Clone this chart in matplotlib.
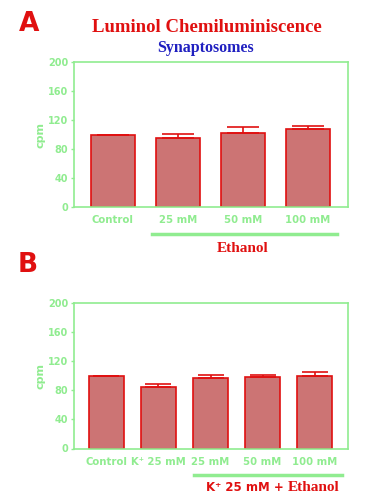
import numpy as np
import matplotlib.pyplot as plt
import matplotlib.transforms as mtransforms

# panel A data
labels_a = ["Control", "25 mM", "50 mM", "100 mM"]
values_a = [100, 94.5, 101.5, 108]
errors_a = [0, 6, 8.5, 3.5]

# panel B data
labels_b = ["Control", "K\u207a 25 mM", "25 mM", "50 mM", "100 mM"]
values_b = [100, 84.5, 97.5, 98.5, 99.5]
errors_b = [0, 4.8, 3.2, 3.2, 5.4]

yticks = [0, 40, 80, 120, 160, 200]

GREEN = "#90ec90"
RED = "#e01010"
FILL = "#cc7474"
SERIF = "Liberation Serif"


def draw_panel(ax, labels, values, errors, xlim, capsize):
    x = np.arange(len(labels))
    ax.bar(x, values, width=0.68, color=FILL, edgecolor=RED, linewidth=1.2,
           zorder=2)
    ax.errorbar(x, values, yerr=[np.zeros(len(errors)), errors], fmt="none",
                ecolor=RED, elinewidth=1.2, capsize=capsize, capthick=1.2,
                zorder=3)
    ax.set_xlim(*xlim)
    ax.set_ylim(0, 200)
    ax.set_yticks(yticks)
    ax.set_xticks(x)
    ax.set_xticklabels(labels)
    for s in ax.spines.values():
        s.set_color(GREEN)
        s.set_linewidth(1.2)
    ax.tick_params(axis="y", colors=GREEN, length=2, width=1, pad=2,
                   labelsize=7)
    ax.tick_params(axis="x", colors=GREEN, length=0, pad=6, labelsize=7.3)
    for t in ax.get_xticklabels() + ax.get_yticklabels():
        t.set_fontweight("bold")
    ax.set_ylabel("cpm", color=GREEN, fontsize=8, fontweight="bold",
                  labelpad=2)


fig = plt.figure(figsize=(3.87, 5.0), dpi=100)

# panel A
ax1 = fig.add_axes([0.191, 0.586, 0.708, 0.29])
draw_panel(ax1, labels_a, values_a, errors_a, (-0.6, 3.615), 11.5)
tr1 = mtransforms.blended_transform_factory(ax1.transData, ax1.transAxes)
ax1.plot([0.6, 3.45], [-0.186, -0.186], color=GREEN, lw=2.5,
         transform=tr1, clip_on=False)
ax1.text(2.0, -0.283, "Ethanol", transform=tr1, ha="center", va="center",
         color=RED, fontsize=11, fontweight="bold", family=SERIF)

fig.text(0.535, 0.944, "Luminol Chemiluminiscence", ha="center",
         va="center", color=RED, fontsize=13.5, fontweight="bold",
         family=SERIF)
fig.text(0.532, 0.904, "Synaptosomes", ha="center", va="center",
         color="#2020c0", fontsize=11.5, fontweight="bold", family=SERIF)
fig.text(0.075, 0.952, "A", ha="center", va="center", color=RED,
         fontsize=19, fontweight="bold")

# panel B
ax2 = fig.add_axes([0.191, 0.103, 0.708, 0.291])
draw_panel(ax2, labels_b, values_b, errors_b, (-0.625, 4.64), 9.5)
tr2 = mtransforms.blended_transform_factory(ax2.transData, ax2.transAxes)
ax2.plot([1.68, 4.53], [-0.179, -0.179], color=GREEN, lw=2.5,
         transform=tr2, clip_on=False)
t1 = ax2.text(1.92, -0.27, "K\u207a 25 mM + ", transform=tr2, ha="left",
              va="center", color=RED, fontsize=8.5, fontweight="bold")
fig.canvas.draw()
bb = t1.get_window_extent()
inv = ax2.transAxes.inverted()
xr = inv.transform((bb.x1, bb.y0))[0]
ax2.text(xr, -0.27, "Ethanol", transform=ax2.transAxes, ha="left",
         va="center", color=RED, fontsize=11, fontweight="bold", family=SERIF)

fig.text(0.072, 0.47, "B", ha="center", va="center", color=RED,
         fontsize=19, fontweight="bold")

fig.savefig("out.png", dpi=100)
